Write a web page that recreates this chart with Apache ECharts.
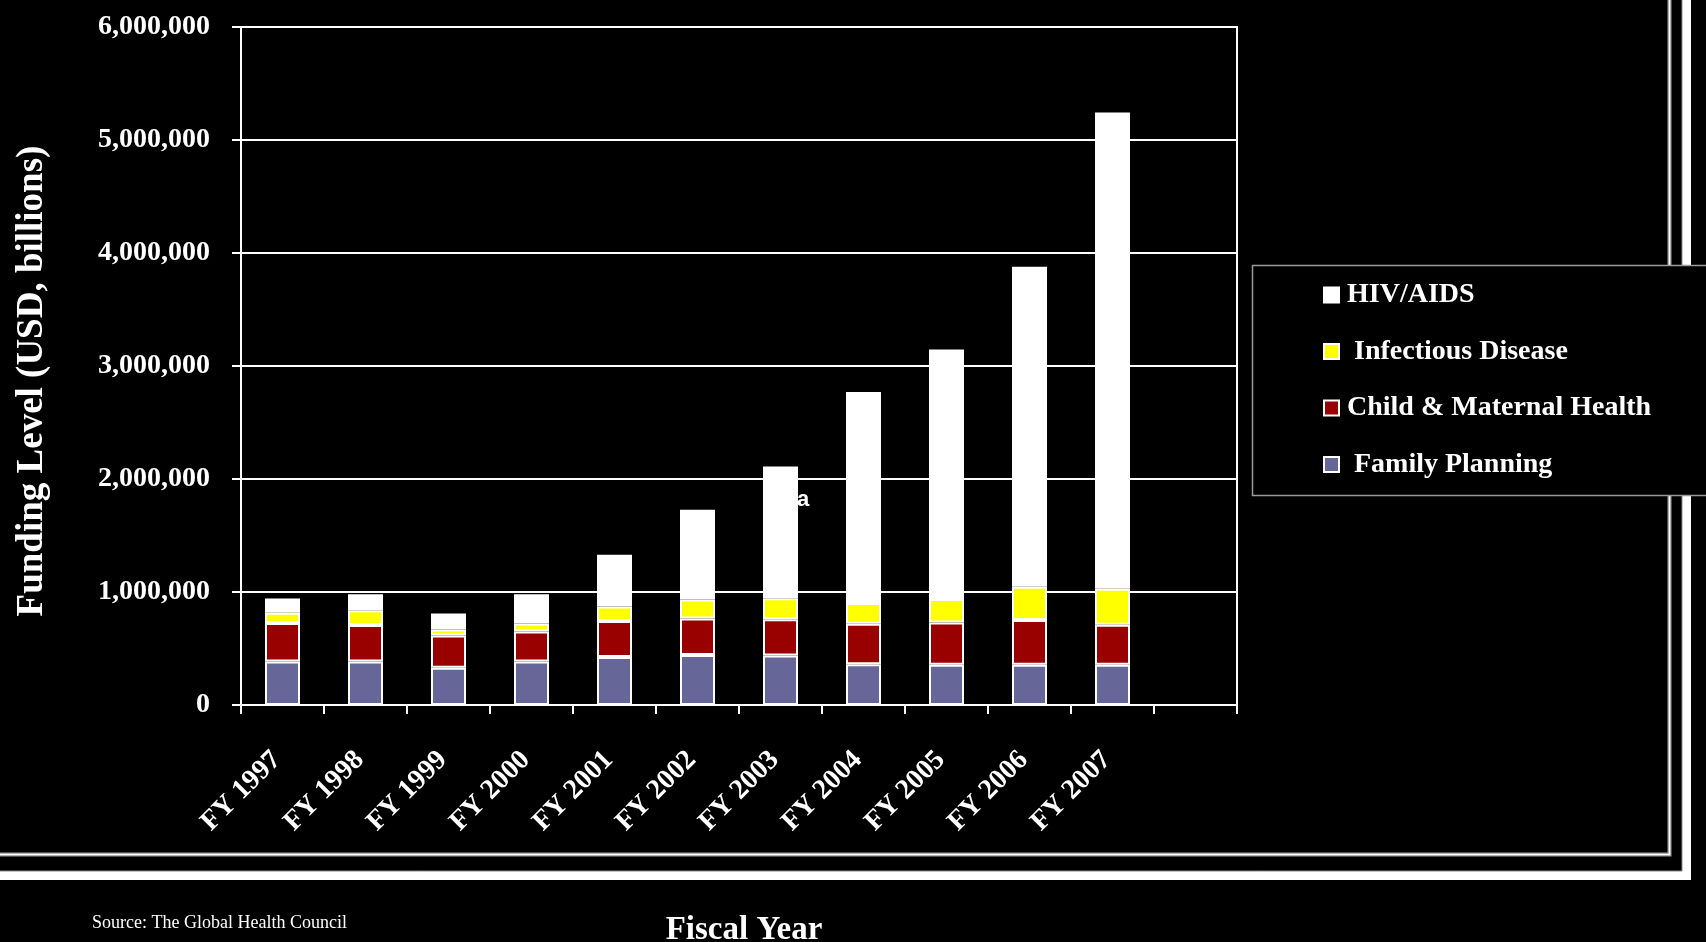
<!DOCTYPE html>
<html>
<head>
<meta charset="utf-8">
<script src="https://cdn.jsdelivr.net/npm/echarts@6/dist/echarts.min.js"></script>
<style>
html,body{margin:0;padding:0;background:#000;}
#chart{width:1706px;height:942px;}
</style>
</head>
<body>
<div id="chart"></div>
<script>
var categories = ['FY 1997','FY 1998','FY 1999','FY 2000','FY 2001','FY 2002','FY 2003','FY 2004','FY 2005','FY 2006','FY 2007',''];
var familyPlanning = [386000,386000,329000,386000,425000,443000,437000,360000,356000,356000,356000,null];
var childMaternal  = [339000,321000,285000,264000,318000,323000,321000,358000,373000,397000,355000,null];
var infectious     = [92000,131000,54000,72000,128000,168000,187000,185000,210000,293000,317000,null];
var hivAids        = [125000,143000,142000,258000,458000,794000,1165000,1867000,2208000,2832000,4215000,null];
var yTickLabels = ['0','1,000,000','2,000,000','3,000,000','4,000,000','5,000,000','6,000,000'];
var seriesNames = ['Family Planning','Child & Maternal Health','Infectious Disease','HIV/AIDS'];
var legendOrder = ['HIV/AIDS','Infectious Disease','Child & Maternal Health','Family Planning'];

var serif = '"Liberation Serif", "Times New Roman", serif';
var chart = echarts.init(document.getElementById('chart'));

function barSeries(name, data, color) {
  return {
    name: name, type: 'bar', stack: 'total', data: data, barWidth: 35,
    itemStyle: { color: color, borderColor: '#ffffff', borderWidth: 2 },
    z: 2
  };
}

chart.setOption({
  backgroundColor: '#000000',
  animation: false,
  grid: { left: 241, right: 469, top: 27, bottom: 237, show: true, borderColor: '#ffffff', borderWidth: 2, backgroundColor: 'transparent' },
  legend: {
    data: legendOrder, orient: 'vertical', left: 1318, top: 276,
    itemWidth: 15, itemHeight: 15, itemGap: 28.5, icon: 'rect',
    z: 10,
    formatter: function (n) { return (n === 'Infectious Disease' || n === 'Family Planning') ? ' ' + n : n; },
    textStyle: { color: '#ffffff', fontFamily: serif, fontWeight: 'bold', fontSize: 28, lineHeight: 28, padding: [0,0,0,3] }
  },
  xAxis: {
    type: 'category', data: categories,
    axisLine: { show: true, lineStyle: { color: '#ffffff', width: 2 } },
    axisTick: { show: true, length: 9, interval: 0, lineStyle: { color: '#ffffff', width: 2 } },
    axisLabel: { interval: 0, rotate: 45, margin: 45, padding: [0, 8, 0, 0], color: '#ffffff', fontFamily: serif, fontWeight: 'bold', fontSize: 28 }
  },
  yAxis: {
    type: 'value', min: 0, max: 6000000, interval: 1000000,
    axisLine: { show: true, lineStyle: { color: '#ffffff', width: 2 } },
    axisTick: { show: true, length: 9, lineStyle: { color: '#ffffff', width: 2 } },
    splitLine: { show: true, lineStyle: { color: '#ffffff', width: 2 } },
    axisLabel: { margin: 31, color: '#ffffff', fontFamily: serif, fontWeight: 'bold', fontSize: 28,
      formatter: function (v) { return yTickLabels[Math.round(v / 1000000)]; } }
  },
  series: [
    barSeries(seriesNames[0], familyPlanning, '#666699'),
    barSeries(seriesNames[1], childMaternal, '#990000'),
    barSeries(seriesNames[2], infectious, '#ffff00'),
    barSeries(seriesNames[3], hivAids, '#ffffff')
  ],
  graphic: [
    { type: 'polyline', z: 1, shape: { points: [[0,854.5],[1669.5,854.5],[1669.5,0]] }, style: { stroke: '#9a9a9a', lineWidth: 4, fill: null } },
    { type: 'polyline', z: 1, shape: { points: [[0,854.5],[1669.5,854.5],[1669.5,0]] }, style: { stroke: '#ffffff', lineWidth: 1.5, fill: null } },
    { type: 'polyline', z: 1, shape: { points: [[0,875.5],[1686.5,875.5],[1686.5,0]] }, style: { stroke: '#ffffff', lineWidth: 9, fill: null } },
    { type: 'polyline', z: 1, shape: { points: [[0,871],[1682,871],[1682,0]] }, style: { stroke: '#8a8a8a', lineWidth: 1, fill: null } },
    { type: 'rect', z: 3, shape: { x: 1252.5, y: 265.5, width: 520, height: 230 }, style: { fill: '#000000', stroke: '#9a9a9a', lineWidth: 1.5 } },
    { type: 'text', z: 5, x: 32, y: 381, rotation: Math.PI / 2,
      style: { text: 'Funding Level (USD, billions)', fill: '#ffffff', font: 'bold 37px ' + serif, textAlign: 'center', textVerticalAlign: 'middle' } },
    { type: 'text', z: 5, x: 744, y: 930,
      style: { text: 'Fiscal Year', fill: '#ffffff', font: 'bold 33px ' + serif, textAlign: 'center', textVerticalAlign: 'middle' } },
    { type: 'text', z: 5, x: 92, y: 923,
      style: { text: 'Source: The Global Health Council', fill: '#ffffff', font: '18px ' + serif, textAlign: 'left', textVerticalAlign: 'middle' } },
    { type: 'text', z: 50, x: 797, y: 500,
      style: { text: 'a', fill: '#ffffff', font: 'bold 22px "Liberation Sans", Arial, sans-serif', textAlign: 'left', textVerticalAlign: 'middle' } }
  ]
});
</script>
</body>
</html>
